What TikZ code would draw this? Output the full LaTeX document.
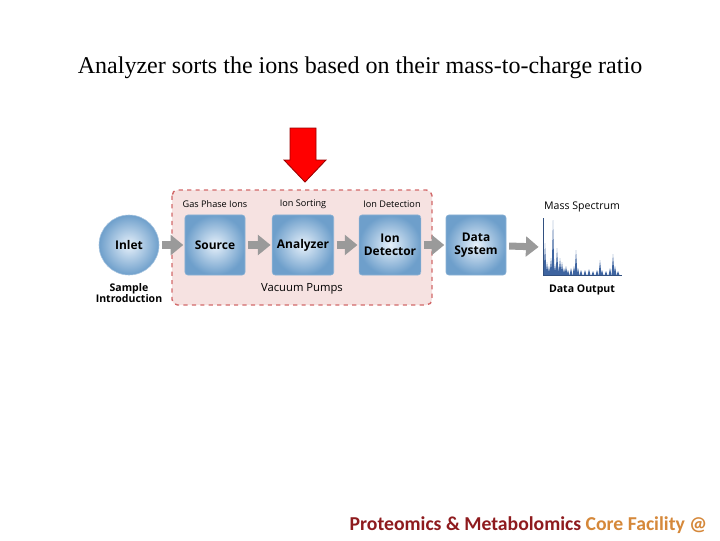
\documentclass[tikz,border=0pt]{standalone}
\usepackage{fontspec}
\setmainfont{Liberation Serif}
\newfontfamily\diagfont{Open Sans}
\newfontfamily\footfont{Carlito}
\usetikzlibrary{arrows.meta,positioning}
\definecolor{boxblue}{HTML}{6E9FCB}
\definecolor{boxlight}{HTML}{E6F0FA}
\definecolor{vacfill}{HTML}{F6E2E1}
\definecolor{vacline}{HTML}{D2696A}
\definecolor{flowgray}{HTML}{9A9A9A}
\definecolor{specblue}{HTML}{3E64A0}
\definecolor{pmred}{HTML}{8E1B1E}
\definecolor{pmorange}{HTML}{D5883A}
\tikzset{
  unit/.style={draw=boxblue!80,rounded corners=2pt,inner color=boxlight,outer color=boxblue,
    minimum width=1.5cm,minimum height=1.5cm,align=center,font=\diagfont\fontsize{8.5}{9.5}\selectfont\bfseries},
  flow/.style={draw=flowgray,line width=5pt,-{Triangle[length=9pt,width=14pt]},shorten <=2pt,shorten >=1pt},
  tag/.style={font=\diagfont\fontsize{6.5}{7.5}\selectfont},
}
\begin{document}
\begin{tikzpicture}[x=0.025cm,y=-0.025cm]
  \useasboundingbox (0,0) rectangle (720,540);
  % Titolo
  \node[font=\fontsize{17.1}{20}\selectfont] (title) at (360,68) {Analyzer sorts the ions based on their mass-to-charge ratio};
  % Freccia rossa
  \draw[fill=red,draw=red!60!black,line width=0.6pt] (290,128) -- (316,128) -- (316,160) -- (326,160)
    -- (305,182) -- (284,160) -- (290,160) -- cycle;
  % Zona sotto vuoto
  \draw[fill=vacfill,draw=vacline,dashed,line width=1pt,rounded corners=4pt] (172,190) rectangle (432,305);
  % Blocchi
  \node[unit,circle,minimum size=1.5cm,draw=boxblue!60] (inlet) at (129,245) {Inlet};
  \node[unit] (source) at (215,245) {Source};
  \node[unit] (analyzer) at (303,245) {Analyzer};
  \node[unit] (detector) at (390,245) {Ion\\Detector};
  \node[unit] (datasys) at (476,245) {Data\\System};
  % Etichette
  \node[tag] (gasions) at (215,204) {Gas Phase Ions};
  \node[tag] (sorting) at (303,204) {Ion Sorting};
  \node[tag] (detection) at (392,204) {Ion Detection};
  \node[tag,font=\diagfont\fontsize{8}{9}\selectfont] (vacuum) at (302,289) {Vacuum Pumps};
  \node[align=center,font=\diagfont\fontsize{7.5}{8}\selectfont\bfseries] (sample) at (129,293) {Sample\\Introduction};
  \node[tag,font=\diagfont\fontsize{7.5}{8.5}\selectfont] (masspec) at (582,207) {Mass Spectrum};
  \node[font=\diagfont\fontsize{7.5}{8.5}\selectfont\bfseries] (output) at (582,290) {Data Output};
  % Spettro
  \coordinate (spec) at (540,247);
  \foreach \px/\py in {545/243,547/262,549/266,551/258,553/220,555/264,557/248,559/266,560/258,562/262,
      564/268,566/266,568/270,571/268,574/266,576/250,578/268,581/270,585/270,589/269,593/271,
      597/270,600/260,602/270,606/271,610/268,613/254,615/266,618/271}
    \fill[specblue] (\px-1.4,275) -- (\px,\py) -- (\px+1.4,275) -- cycle;
  \draw[specblue!80!black,line width=0.5pt] (543,218) -- (543,275) -- (622,275);
  % Frecce
  \draw[flow] (inlet) -- (source);
  \draw[flow] (source) -- (analyzer);
  \draw[flow] (analyzer) -- (detector);
  \draw[flow] (detector) -- (datasys);
  \draw[flow] (datasys) -- (spec);
  % Piede
  \node[anchor=east,font=\footfont\fontsize{14}{16}\selectfont\bfseries] (footer) at (712,525)
    {\textcolor{pmred}{Proteomics \& Metabolomics} \textcolor{pmorange}{Core Facility @}};
\end{tikzpicture}
\end{document}
